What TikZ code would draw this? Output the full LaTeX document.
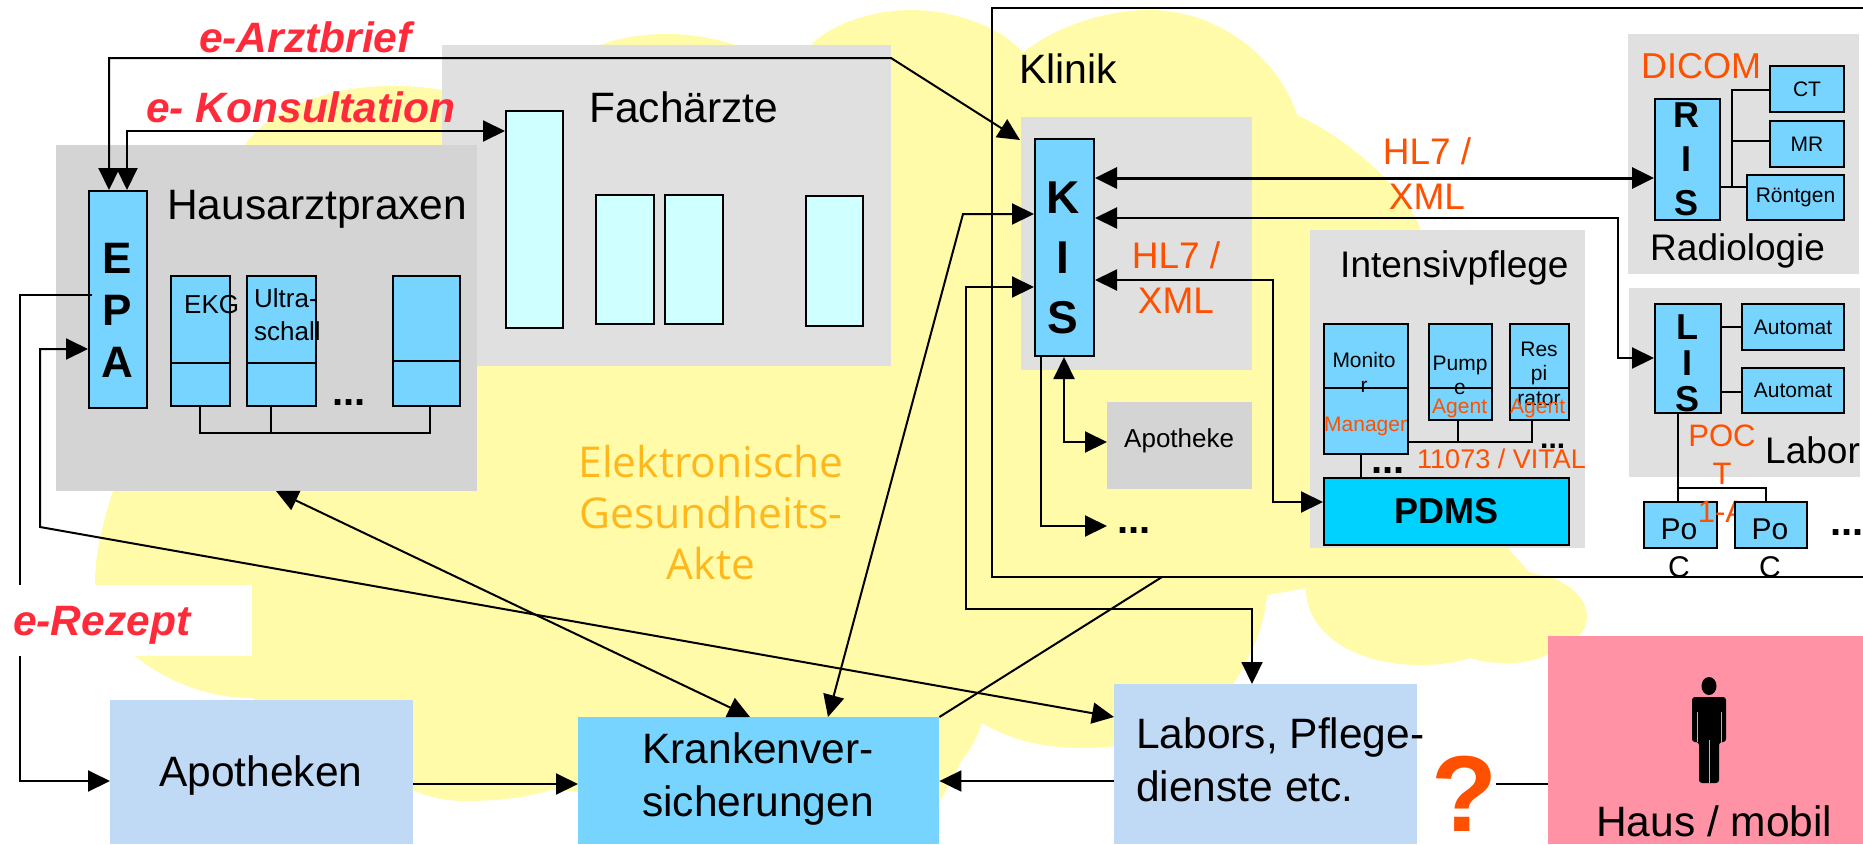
\documentclass[tikz,border=0pt]{standalone}
\usepackage{fontspec}
\setmainfont{Liberation Sans}
\newfontfamily\akteface{Open Sans}
\usetikzlibrary{arrows.meta, positioning, calc}
\definecolor{CloudYellow}{HTML}{FFFBA8}
\definecolor{AreaGrey}{HTML}{E0E0E0}
\definecolor{PraxisGrey}{HTML}{D4D4D4}
\definecolor{SysBlue}{HTML}{77D4FF}
\definecolor{PdmsBlue}{HTML}{00D2FF}
\definecolor{PaleCyan}{HTML}{CFFFFF}
\definecolor{PaleBlue}{HTML}{C0DAF5}
\definecolor{HomePink}{HTML}{FF93A5}
\definecolor{StdOrange}{HTML}{FF5000}
\definecolor{FlowRed}{HTML}{FF2A3A}
\definecolor{AkteGold}{HTML}{FFB81C}
\tikzset{
    areabox/.style={rectangle, fill=AreaGrey, inner sep=0pt, anchor=north west},
    praxisbox/.style={rectangle, fill=PraxisGrey, inner sep=0pt, anchor=north west},
    paleblock/.style={rectangle, fill=PaleBlue, inner sep=0pt, anchor=north west},
    sysblock/.style={rectangle, draw=black, fill=SysBlue, line width=2pt, inner sep=0pt, anchor=north west},
    cyanblock/.style={rectangle, draw=black, fill=PaleCyan, line width=2pt, inner sep=0pt, anchor=north west},
    basetext/.style={inner sep=0pt, anchor=base west, align=center},
    bigtext/.style={basetext, font=\fontsize{42.5}{53}\selectfont},
    midtext/.style={basetext, font=\fontsize{37}{45}\selectfont},
    smalltext/.style={basetext, font=\fontsize{21}{25}\selectfont},
    stdtext/.style={midtext, text=StdOrange},
    stdsmall/.style={smalltext, text=StdOrange},
    flowtext/.style={basetext, font=\fontsize{42.5}{50}\bfseries\itshape\selectfont, text=FlowRed},
    lettertext/.style={basetext, font=\fontsize{44}{52}\bfseries\selectfont},
    dotstext/.style={basetext, font=\fontsize{40}{40}\bfseries\selectfont},
    plainline/.style={line width=2pt},
    flatarrow/.style={-{Triangle[length=22pt, width=21pt]}, line width=2pt},
    bothways/.style={{Triangle[length=22pt, width=21pt]}-{Triangle[length=22pt, width=21pt]}, line width=2pt}
}
\begin{document}
\begin{tikzpicture}[x=1pt, y=-1pt]
    \useasboundingbox (0,0) rectangle (1863,844);

    % Cloud
    \fill[CloudYellow] (113,491) .. controls (100,530) and (95,560) .. (95,583)
        .. controls (95,640) and (170,698) .. (252,698) -- (413,790)
        .. controls (430,798) and (448,801) .. (465,801) .. controls (495,801) and (525,798) .. (551,790)
        -- (930,815) .. controls (945,795) and (955,775) .. (960,763)
        .. controls (972,748) and (978,735) .. (982,723)
        .. controls (1010,740) and (1045,748) .. (1081,748)
        .. controls (1150,748) and (1215,725) .. (1234,683)
        .. controls (1255,650) and (1265,620) .. (1267,595)
        .. controls (1280,593) and (1295,590) .. (1306,588)
        .. controls (1305,630) and (1350,665) .. (1421,665)
        .. controls (1440,665) and (1458,662) .. (1471,658)
        .. controls (1480,662) and (1495,663) .. (1507,663)
        .. controls (1525,663) and (1540,660) .. (1555,650)
        .. controls (1575,645) and (1587,630) .. (1587,617)
        .. controls (1587,598) and (1570,585) .. (1553,578)
        -- (1529,572) -- (1507,547) -- (1421,230)
        .. controls (1400,180) and (1340,135) .. (1297,115)
        .. controls (1280,60) and (1220,10) .. (1150,10)
        .. controls (1100,10) and (1050,30) .. (1023,53)
        .. controls (1000,25) and (950,10) .. (912,10)
        .. controls (870,10) and (830,25) .. (811,45) -- (735,45)
        .. controls (715,38) and (690,34) .. (667,34)
        .. controls (640,34) and (620,38) .. (600,45) -- (442,90)
        .. controls (425,87) and (410,86) .. (392,86)
        .. controls (320,86) and (265,115) .. (245,145) -- cycle;

    % Klinik frame
    \draw[plainline] (1863,8) -- (992,8) -- (992,577) -- (1863,577);

    % Areas
    \node[areabox, minimum width=449pt, minimum height=321pt] (fachaerzte) at (442,45) {};
    \node[praxisbox, minimum width=421pt, minimum height=346pt] (hausarzt) at (56,145) {};
    \node[areabox, minimum width=231pt, minimum height=253pt] (kisarea) at (1021,117) {};
    \node[praxisbox, minimum width=145pt, minimum height=87pt] (apotheke) at (1107,402) {};
    \node[areabox, minimum width=275pt, minimum height=318pt] (intensiv) at (1310,230) {};
    \node[areabox, minimum width=231pt, minimum height=240pt] (radiologie) at (1628,34) {};
    \node[areabox, minimum width=231pt, minimum height=189pt] (labor) at (1629,288) {};

    % Texts on the areas
    \node[basetext, font=\fontsize{42.5}{51}\akteface\selectfont, text=AkteGold, anchor=base] (akte) at (711,579) {Elektronische\\Gesundheits-\\Akte};
    \node[bigtext] (fachtext) at (589,122) {Fachärzte};
    \node[bigtext] (haustext) at (167,219) {Hausarztpraxen};
    \node[bigtext, font=\fontsize{41}{50}\selectfont] (kliniktext) at (1019,83) {Klinik};
    \node[midtext] (inttext) at (1340,277) {Intensivpflege};
    \node[midtext] (radtext) at (1650,260) {Radiologie};
    \node[midtext] (labtext) at (1765,463) {Labor};
    \node[basetext, font=\fontsize{26}{30}\selectfont] (apotext) at (1124,447) {Apotheke};
    \node[stdtext, font=\fontsize{36}{45}\selectfont] (dicomtext) at (1641,78) {DICOM};
    \node[stdtext, anchor=base] (hlone) at (1427,209) {HL7 /\\XML};
    \node[stdtext, anchor=base] (hltwo) at (1176,313) {HL7 /\\XML};
    \node[basetext, font=\fontsize{27}{30}\selectfont, text=StdOrange] (vital) at (1417,468) {11073 / VITAL};

    % Hausarzt
    \node[sysblock, minimum width=58pt, minimum height=217pt] (epa) at (88,190) {};
    \node[lettertext, anchor=base] (epatext) at (117,377) {E\\P\\A};
    \node[sysblock, minimum width=59pt, minimum height=130pt] (ekg) at (170,275) {};
    \node[sysblock, minimum width=69pt, minimum height=130pt] (ultra) at (246,275) {};
    \node[sysblock, minimum width=67pt, minimum height=130pt] (praxisend) at (392,275) {};
    \node[basetext, font=\fontsize{26}{33}\selectfont] (ekgtext) at (184,313) {EKG};
    \node[basetext, font=\fontsize{26}{33}\selectfont, align=left] (ultratext) at (254,340) {Ultra-\\schall};
    \node[dotstext] (praxisdots) at (332,405) {...};
    \draw[plainline] (ekg.west |- 0,363) -- (ekg.east |- 0,363);
    \draw[plainline] (ultra.west |- 0,363) -- (ultra.east |- 0,363);
    \draw[plainline] (praxisend.west |- 0,361) -- (praxisend.east |- 0,361);
    \draw[plainline] (200,405) -- (200,433) -- (430,433) -- (430,405);
    \draw[plainline] (271,405) -- (271,433);

    % Fachaerzte
    \node[cyanblock, minimum width=57pt, minimum height=217pt] (fachone) at (505,110) {};
    \node[cyanblock, minimum width=58pt, minimum height=129pt] (fachtwo) at (595,194) {};
    \node[cyanblock, minimum width=58pt, minimum height=129pt] (fachthree) at (664,194) {};
    \node[cyanblock, minimum width=57pt, minimum height=130pt] (fachfour) at (805,195) {};

    % Klinik systems
    \node[sysblock, minimum width=59pt, minimum height=217pt] (kis) at (1034,138) {};
    \node[lettertext, font=\fontsize{46}{60}\bfseries\selectfont, anchor=base] (kistext) at (1063,333) {K\\I\\S};
    \node[sysblock, minimum width=65pt, minimum height=121pt] (ris) at (1654,98) {};
    \node[lettertext, font=\fontsize{36}{44}\bfseries\selectfont, anchor=base] (ristext) at (1686,215) {R\\I\\S};
    \node[sysblock, minimum width=74pt, minimum height=46pt, font=\fontsize{21}{25}\selectfont] (ct) at (1769,65) {CT};
    \node[sysblock, minimum width=74pt, minimum height=46pt, font=\fontsize{21}{25}\selectfont] (mr) at (1769,120) {MR};
    \node[sysblock, minimum width=97pt, minimum height=45pt, font=\fontsize{21}{25}\selectfont] (roentgen) at (1746,174) {Röntgen};
    \draw[plainline] (ct.west |- 0,90) -- (1732,90) -- (1732,187);
    \draw[plainline] (mr.west |- 0,141) -- (1732,141);
    \draw[plainline] (ris.east |- 0,187) -- (roentgen.west |- 0,187);

    \node[sysblock, minimum width=66pt, minimum height=109pt] (lis) at (1654,303) {};
    \node[lettertext, font=\fontsize{36}{36}\bfseries\selectfont, anchor=base] (listext) at (1687,411) {L\\I\\S};
    \node[sysblock, minimum width=102pt, minimum height=46pt, font=\fontsize{21}{25}\selectfont] (autoone) at (1741,303) {Automat};
    \node[sysblock, minimum width=102pt, minimum height=45pt, font=\fontsize{21}{25}\selectfont] (autotwo) at (1741,367) {Automat};
    \draw[plainline] (lis.east |- 0,327) -- (autoone.west |- 0,327);
    \draw[plainline] (lis.east |- 0,392) -- (autotwo.west |- 0,392);

    \node[sysblock, minimum width=73pt, minimum height=46pt] (pocone) at (1643,501) {};
    \node[stdtext, font=\fontsize{31}{38}\selectfont, anchor=base] (poct) at (1722,522) {POC\\T\\1-A};
    \node[sysblock, minimum width=72pt, minimum height=46pt] (poctwo) at (1734,501) {};
    \node[basetext, font=\fontsize{30}{38}\selectfont, anchor=base] (poconetext) at (1679,577) {Po\\C};
    \node[basetext, font=\fontsize{30}{38}\selectfont, anchor=base] (poctwotext) at (1770,577) {Po\\C};
    \node[dotstext] (pocdots) at (1830,535) {...};
    \draw[plainline] (lis.south -| 1678,0) -- (pocone.north -| 1678,0);
    \draw[plainline] (1678,488) -- (1766,488) -- (poctwo.north -| 1766,0);

    % Intensivpflege
    \node[sysblock, minimum width=84pt, minimum height=130pt] (monitor) at (1323,323) {};
    \node[sysblock, minimum width=63pt, minimum height=96pt] (pumpe) at (1428,323) {};
    \node[sysblock, minimum width=59pt, minimum height=96pt] (respi) at (1509,323) {};
    \node[smalltext, anchor=base, font=\fontsize{21}{25}\selectfont] (montext) at (1364,392) {Monito\\r};
    \node[smalltext, anchor=base, font=\fontsize{21}{24}\selectfont] (pumptext) at (1460,394) {Pump\\e};
    \node[smalltext, anchor=base, font=\fontsize{21}{24.5}\selectfont] (resptext) at (1539,405) {Res\\pi\\rator};
    \draw[plainline] (monitor.west |- 0,388) -- (monitor.east |- 0,388);
    \draw[plainline] (pumpe.west |- 0,388) -- (pumpe.east |- 0,388);
    \draw[plainline] (respi.west |- 0,388) -- (respi.east |- 0,388);
    \node[stdsmall] (mantext) at (1324,431) {Manager};
    \node[stdsmall] (agentone) at (1432,413) {Agent};
    \node[stdsmall] (agenttwo) at (1510,413) {Agent};
    \node[sysblock, fill=PdmsBlue, minimum width=245pt, minimum height=67pt, font=\fontsize{36}{40}\bfseries\selectfont] (pdms) at (1323,477) {PDMS};
    \draw[plainline] (monitor.east |- 0,442) -- (1532,442) -- (respi.south -| 1532,0);
    \draw[plainline] (pumpe.south -| 1458,0) -- (1458,442);
    \draw[plainline] (monitor.south -| 1361,0) -- (pdms.north -| 1361,0);
    \node[dotstext] (intdots) at (1371,473) {...};
    \node[dotstext, font=\fontsize{30}{30}\bfseries\selectfont] (vitaldots) at (1540,448) {...};
    \node[dotstext] (kisdots) at (1117,533) {...};

    % Lower row
    \node[paleblock, minimum width=303pt, minimum height=160pt] (labors) at (1114,684) {};
    \node[paleblock, minimum width=303pt, minimum height=144pt] (apotheken) at (110,700) {};
    \node[rectangle, fill=SysBlue, inner sep=0pt, anchor=north west, minimum width=361pt, minimum height=127pt] (kranken) at (578,717) {};
    \node[rectangle, fill=HomePink, inner sep=0pt, anchor=north west, minimum width=315pt, minimum height=208pt] (haus) at (1548,636) {};
    \node[bigtext] (apothekentext) at (159,786) {Apotheken};
    \node[bigtext, anchor=base] (krankentext) at (758,816) {Krankenver-\\sicherungen};
    \node[bigtext, align=left] (laborstext) at (1136,801) {Labors, Pflege-\\dienste etc.};
    \node[bigtext] (haustextb) at (1596,836) {Haus / mobil};
    \node[basetext, font=\fontsize{108}{108}\bfseries\selectfont, text=StdOrange, anchor=base] (frage) at (1464,831) {?};

    % Person
    \fill[black] (1709,686) ellipse [x radius=7.5pt, y radius=9pt];
    \fill[black, rounded corners=3pt] (1692,742) -- (1692,697) -- (1726,697) -- (1726,742) -- (1719,742) -- (1719,783) -- (1699,783) -- (1699,742) -- cycle;
    \draw[HomePink, line width=0.8pt] (1697,712) -- (1697,742) (1721,712) -- (1721,742) (1709,740) -- (1709,783);

    % Flows between the sites
    \coordinate (briefin) at (1020,140);
    \draw[bothways] (epa.north -| 109,0) -- (109,58) -- (891,58) -- (briefin);
    \draw[bothways] (epa.north -| 127,0) -- (127,131) -- (fachone.west |- 0,131);
    \draw[flatarrow] (92,295) -- (20,295) -- (20,781) -- (apotheken.west |- 0,781);
    \draw[bothways] (epa.west |- 0,349) -- (40,349) -- (40,527) -- (labors.west |- 0,717);
    \draw[bothways] (276,491) -- (750,717);
    \draw[bothways] (828,717) -- (963,214) -- (kis.west |- 0,214);
    \draw[bothways] (kis.west |- 0,287) -- (966,287) -- (966,609) -- (1252,609) -- (labors.north -| 1252,0);
    \draw[plainline] (kranken.north east) -- (1162,577);
    \draw[flatarrow] (apotheken.east |- 0,784) -- (kranken.west |- 0,784);
    \draw[flatarrow] (labors.west |- 0,781) -- (kranken.east |- 0,781);
    \draw[plainline] (1496,784) -- (haus.west |- 0,784);

    % Flows around KIS
    \draw[bothways, line width=3pt] (kis.east |- 0,178) -- (ris.west |- 0,178);
    \draw[bothways] (kis.east |- 0,218) -- (1618,218) -- (1618,358) -- (lis.west |- 0,358);
    \draw[bothways] (kis.east |- 0,280) -- (1273,280) -- (1273,502) -- (pdms.west |- 0,502);
    \draw[bothways] (kis.south -| 1064,0) -- (1064,442) -- (apotheke.west |- 0,442);
    \draw[flatarrow] (kis.south -| 1041,0) -- (1041,526) -- (1107,526);

    % Rezept
    \node[rectangle, fill=white, inner sep=0pt, anchor=north west, minimum width=252pt, minimum height=71pt] (rezept) at (0,585) {};
    \node[flowtext] (rezepttext) at (13,635) {e-Rezept};
    \node[flowtext] (brieftext) at (199,52) {e-Arztbrief};
    \node[flowtext] (konsultext) at (146,122) {e- Konsultation};
\end{tikzpicture}
\end{document}
